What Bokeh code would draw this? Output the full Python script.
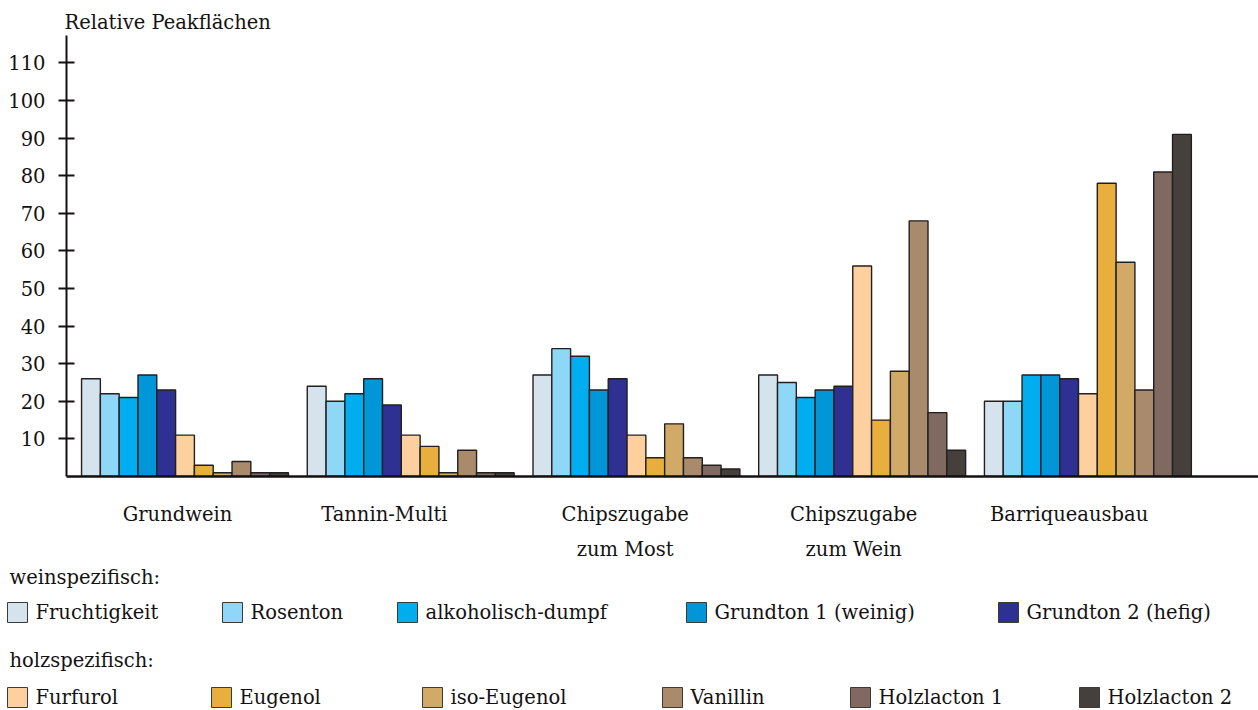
from bokeh.plotting import figure
from bokeh.models import Range1d, FixedTicker, ColumnDataSource
from bokeh.layouts import column
from bokeh.embed import file_html
from bokeh.resources import INLINE
from bokeh.core.properties import value

# ---------------- data ----------------
groups = ["Grundwein", "Tannin-Multi", "Chipszugabe\nzum Most",
          "Chipszugabe\nzum Wein", "Barriqueausbau"]

wein_series = ["Fruchtigkeit", "Rosenton", "alkoholisch-dumpf",
               "Grundton 1 (weinig)", "Grundton 2 (hefig)"]
holz_series = ["Furfurol", "Eugenol", "iso-Eugenol", "Vanillin",
               "Holzlacton 1", "Holzlacton 2"]

fruchtigkeit = [26, 24, 27, 27, 20]
rosenton = [22, 20, 34, 25, 20]
alkoholisch_dumpf = [21, 22, 32, 21, 27]
grundton_1 = [27, 26, 23, 23, 27]
grundton_2 = [23, 19, 26, 24, 26]
furfurol = [11, 11, 11, 56, 22]
eugenol = [3, 8, 5, 15, 78]
iso_eugenol = [1, 1, 14, 28, 57]
vanillin = [4, 7, 5, 68, 23]
holzlacton_1 = [1, 1, 3, 17, 81]
holzlacton_2 = [1, 1, 2, 7, 91]

y_ticks = [10, 20, 30, 40, 50, 60, 70, 80, 90, 100, 110]

series_values = [fruchtigkeit, rosenton, alkoholisch_dumpf, grundton_1, grundton_2,
                 furfurol, eugenol, iso_eugenol, vanillin, holzlacton_1, holzlacton_2]
series_names = wein_series + holz_series
colors = ["#d5e4ec", "#8fd7f7", "#00aeef", "#0096d8", "#2e3192",
          "#fdd09e", "#e9af3e", "#d2aa68", "#a98b6b", "#806961", "#45403b"]

# ---------------- styling ----------------
FONT = "DejaVu Serif"
FS = "19.5px"
DARK = "#141112"
W = 1258
LEFT = 66
AXIS_Y = 476
BOTTOM = 88
MAIN_H = AXIS_Y + BOTTOM
LEG_H = 710 - MAIN_H

n_series = len(series_names)
slot = n_series + 1  # one empty bar width between groups

xs, tops, cols = [], [], []
for gi in range(len(groups)):
    for si in range(n_series):
        xs.append(gi * slot + si + 0.5)
        tops.append(series_values[si][gi])
        cols.append(colors[si])
src = ColumnDataSource(dict(x=xs, top=tops, color=cols))

p = figure(width=W, height=MAIN_H, output_backend="svg", toolbar_location=None,
           x_range=Range1d(-0.8, 62.57), y_range=Range1d(0, 117.3),
           min_border_left=LEFT, min_border_right=0, min_border_top=35,
           min_border_bottom=BOTTOM)
p.frame_align = False
p.title.text = "Relative Peakflächen"
p.title.text_font = FONT
p.title.text_font_size = FS
p.title.text_font_style = "normal"
p.title.text_color = DARK
p.title.align = "left"
p.title.offset = -2
p.title.standoff = 4

p.vbar(x="x", top="top", bottom=0, width=1.0, fill_color="color",
       line_color="#231f20", line_width=1.4, source=src)

p.xgrid.visible = False
p.ygrid.visible = False
p.outline_line_color = None
p.background_fill_color = "white"
p.border_fill_color = "white"

# y axis
p.yaxis.ticker = FixedTicker(ticks=y_ticks)
p.yaxis.axis_line_color = DARK
p.yaxis.axis_line_width = 2
p.yaxis.major_tick_line_color = DARK
p.yaxis.major_tick_line_width = 2
p.yaxis.major_tick_in = 8
p.yaxis.major_tick_out = 8
p.yaxis.minor_tick_line_color = None
p.yaxis.major_label_standoff = 13
p.yaxis.major_label_text_font = FONT
p.yaxis.major_label_text_font_size = FS
p.yaxis.major_label_text_color = DARK

# x axis with group labels (slightly left of each group's centre, as in the original)
label_nudge = [-0.4, -1.4, -0.6, -0.45, -1.0]
label_pos = [gi * slot + (n_series / 2) + label_nudge[gi] for gi in range(len(groups))]
p.xaxis.ticker = FixedTicker(ticks=label_pos)
p.xaxis.major_label_overrides = {pos: g for pos, g in zip(label_pos, groups)}
p.xaxis.axis_line_color = DARK
p.xaxis.axis_line_width = 2.5
p.xaxis.major_tick_line_color = None
p.xaxis.minor_tick_line_color = None
p.xaxis.major_tick_in = 0
p.xaxis.major_tick_out = 0
p.xaxis.major_label_standoff = 26
p.xaxis.major_label_text_font = FONT
p.xaxis.major_label_text_font_size = FS
p.xaxis.major_label_text_color = DARK
p.xaxis.major_label_text_line_height = 1.56

# ---------------- legend figure (x/y in page pixels) ----------------
leg = figure(width=W, height=LEG_H, output_backend="svg", toolbar_location=None,
             x_range=Range1d(0, W), y_range=Range1d(LEG_H, 0),
             min_border=0, min_border_left=0, min_border_right=0,
             min_border_top=0, min_border_bottom=0)
leg.frame_align = False
leg.axis.visible = False
leg.grid.visible = False
leg.outline_line_color = None
leg.background_fill_color = "white"
leg.border_fill_color = "white"

row_mid = [577 - MAIN_H, 612 - MAIN_H, 660 - MAIN_H, 697 - MAIN_H]
wein_left = [7, 222, 397, 686, 998]
holz_left = [7, 211, 422, 662, 850, 1079]
SW = 20

headers = ["weinspezifisch:", "holzspezifisch:"]
leg.text(x=[9, 9], y=[row_mid[0], row_mid[2]], text=headers,
         text_font=value(FONT), text_font_size=FS, text_color=DARK,
         text_baseline="middle", text_align="left")

sw_x, sw_y, sw_c, lab_x, lab_y, lab_t = [], [], [], [], [], []
for i, name in enumerate(wein_series):
    sw_x.append(wein_left[i] + SW / 2); sw_y.append(row_mid[1]); sw_c.append(colors[i])
    lab_x.append(wein_left[i] + SW + 8); lab_y.append(row_mid[1]); lab_t.append(name)
for i, name in enumerate(holz_series):
    sw_x.append(holz_left[i] + SW / 2); sw_y.append(row_mid[3]); sw_c.append(colors[5 + i])
    lab_x.append(holz_left[i] + SW + 8); lab_y.append(row_mid[3]); lab_t.append(name)

leg.rect(x=sw_x, y=sw_y, width=SW, height=SW, width_units="screen",
         height_units="screen", fill_color=sw_c, line_color="#3a3a3a", line_width=1)
leg.text(x=lab_x, y=lab_y, text=lab_t, text_font=value(FONT), text_font_size=FS,
         text_color=DARK, text_baseline="middle", text_align="left")

layout = column(p, leg, spacing=0)
open("out.html", "w").write(file_html(layout, INLINE))
